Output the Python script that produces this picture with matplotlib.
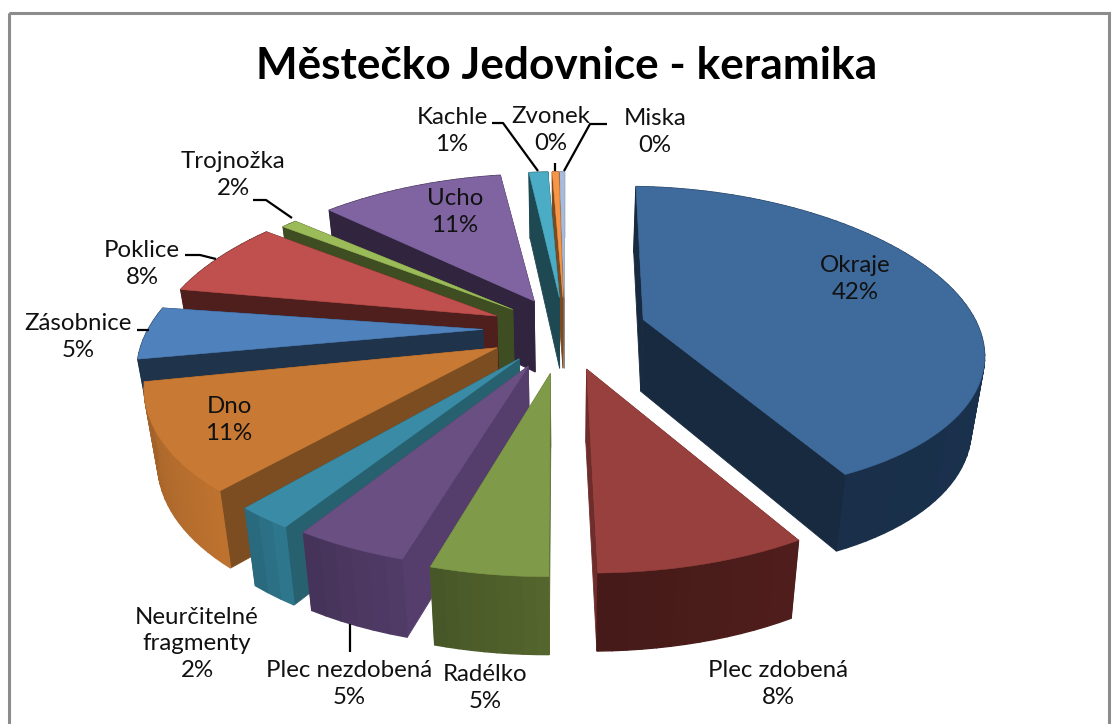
import numpy as np
import matplotlib
matplotlib.use("Agg")
import matplotlib.pyplot as plt
from matplotlib.patches import Polygon, Rectangle

TITLE = "Městečko Jedovnice - keramika"
categories = ["Okraje", "Plec zdobená", "Radélko", "Plec nezdobená", "Neurčitelné\nfragmenty",
              "Dno", "Zásobnice", "Poklice", "Trojnožka", "Ucho", "Kachle", "Zvonek", "Miska"]
values = [41.6, 8.3, 5.3, 4.2, 2.2, 11.1, 4.9, 7.1, 1.7, 11.5, 1.3, 0.4, 0.3]
percent_labels = ["42%", "8%", "5%", "5%", "2%", "11%", "5%", "8%", "2%", "11%", "1%", "0%", "0%"]
explode = [0.24, 0.23, 0.25, 0.23, 0.21, 0.22, 0.24, 0.22, 0.20, 0.20, 0.20, 0.20, 0.20]
radius = [0.99, 0.96, 0.95, 0.96, 0.985, 0.98, 0.98, 1.0, 1.0, 1.0, 1.0, 1.0, 1.0]
taper = [0.05, 0, 0, 0, 0, 0, 0, 0, 0, 0, 0, 0, 0]
trim_start = [2.2, -1.0, 0, -2.0, -0.6, 0.4, -2.0, 0, 0, 0, 0, 0, 0]
trim_end = [0.0, 0.8, 2.2, 1.0, 0.6, 3.0, 2.0, 0, 3.0, 2.0, 0.4, 0, 0]
top_colors = ["#3E6A9C", "#97403D", "#7F9A48", "#6A4F83", "#3A8CA6", "#C87933", "#4F81BD",
              "#C0504D", "#9BBB59", "#8064A2", "#4BACC6", "#F79646", "#A6BBDD"]
wall_colors = ["#1B3350", "#4A1C1A", "#4E5E2A", "#4B3760", "#2C7085", "#B06A2C", "#1F334B",
               "#4F1F1E", "#3F4D22", "#30243F", "#1F4952", "#7A4A22", "#6A7A95"]
radial_colors = ["#182A40", "#6E2C2A", "#5E7236", "#553E6C", "#27606F", "#7C4D21", "#1F334B",
                 "#4F1F1E", "#3F4D22", "#30243F", "#1F4952", "#7A4A22", "#8C8C8C"]
draw_order = [12, 11, 10, 9, 8, 7, 6, 5, 4, 3, 2, 0, 1]

label_pos = [(855, 279), (778, 684), (485, 688), (349, 684), (197, 644), (229, 420), (78, 337),
             (142, 264), (233, 175), (455, 212), (452, 131), (551, 130), (655, 132)]
leaders = [[(492, 123), (503, 123), (538, 171)],
           [(555, 163), (555, 171)],
           [(607, 124), (590, 124), (564, 171)],
           [(253, 200), (266, 200), (292, 218)],
           [(185, 255), (200, 255), (216, 259)],
           [(137, 330), (149, 330)],
           [(350, 624), (350, 652)]]

CX, CY = 565.0, 330.0
A, B, C, D = 169.0, 31.0, 342.0, 75.0


def project(x, v):
    x, v = np.asarray(x, float), np.asarray(v, float)
    return CX + x * (C + D * v), CY + v * (A + B * v)


def extrude(px, py, v):
    v = np.asarray(v, float)
    return CX + (px - CX) * 0.968, py + 66 + 12 * np.clip((v + 1) / 2, 0, 1)


def shade(color, f):
    rgb = np.array(matplotlib.colors.to_rgb(color))
    return tuple(np.clip(rgb * f, 0, 1))


plt.rcParams["font.family"] = ["Lato", "DejaVu Sans"]
fig = plt.figure(figsize=(11.12, 7.24), dpi=100, facecolor="white")
ax = fig.add_axes([0, 0, 1, 1])
ax.set_xlim(0, 1112)
ax.set_ylim(724, 0)
ax.axis("off")
ax.add_patch(Rectangle((9, 13), 1100, 720, fill=False, ec="#8C8C8C", lw=2.2, zorder=1))

fractions = np.array(values) / np.sum(values)
edges = np.concatenate([[0], np.cumsum(fractions)]) * 2 * np.pi

z = 2
for i in draw_order:
    a0, a1 = edges[i], edges[i + 1]
    mid = (a0 + a1) / 2
    ox, ov = explode[i] * np.sin(mid), -explode[i] * np.cos(mid)
    th = np.linspace(a0 + np.radians(trim_start[i]), a1 - np.radians(trim_end[i]),
                     max(3, int((a1 - a0) * 30)))
    prog = np.linspace(0, 1, len(th))
    rr = radius[i] * (1 - taper[i] * prog ** 4)
    wx, wv = ox + rr * np.sin(th), ov - rr * np.cos(th)
    px, py = project(wx, wv)
    bx, by = extrude(px, py, wv)
    ax_, ay_ = project(ox, ov)
    abx, aby = extrude(ax_, ay_, ov)

    outer_first = -np.cos(mid) <= 0.05
    radial_z = z + 1 if outer_first else z
    outer_z = z if outer_first else z + 1
    for k in (0, -1):
        ax.add_patch(Polygon([(ax_, ay_), (px[k], py[k]), (bx[k], by[k]), (abx, aby)],
                             closed=True, fc=radial_colors[i], ec=radial_colors[i], lw=0.6, zorder=radial_z))
    n = len(th) - 1
    for k in range(n):
        t = (k + 0.5) / n
        f = 1.08 - 0.16 * t
        col = shade(wall_colors[i], f)
        ax.add_patch(Polygon([(px[k], py[k]), (px[k + 1], py[k + 1]), (bx[k + 1], by[k + 1]), (bx[k], by[k])],
                             closed=True, fc=col, ec=col, lw=1.0, zorder=outer_z))
    z += 2
    ax.add_patch(Polygon(np.column_stack([np.r_[ax_, px], np.r_[ay_, py]]), closed=True,
                         fc=top_colors[i], ec=top_colors[i], lw=0.4, zorder=z))
    z += 1

ax.text(567, 66, TITLE, ha="center", va="center", fontsize=31.8, fontweight="bold",
        color="black", zorder=z + 2)
for name, pct, (lx, ly) in zip(categories, percent_labels, label_pos):
    ax.text(lx, ly, f"{name}\n{pct}", ha="center", va="center", fontsize=17.3, linespacing=1.32,
            color="#111111", zorder=z + 2)
for pts in leaders:
    p = np.array(pts)
    ax.plot(p[:, 0], p[:, 1], color="black", lw=1.6, zorder=z + 1, solid_capstyle="butt")

fig.savefig("out.png", dpi=100, facecolor="white")
